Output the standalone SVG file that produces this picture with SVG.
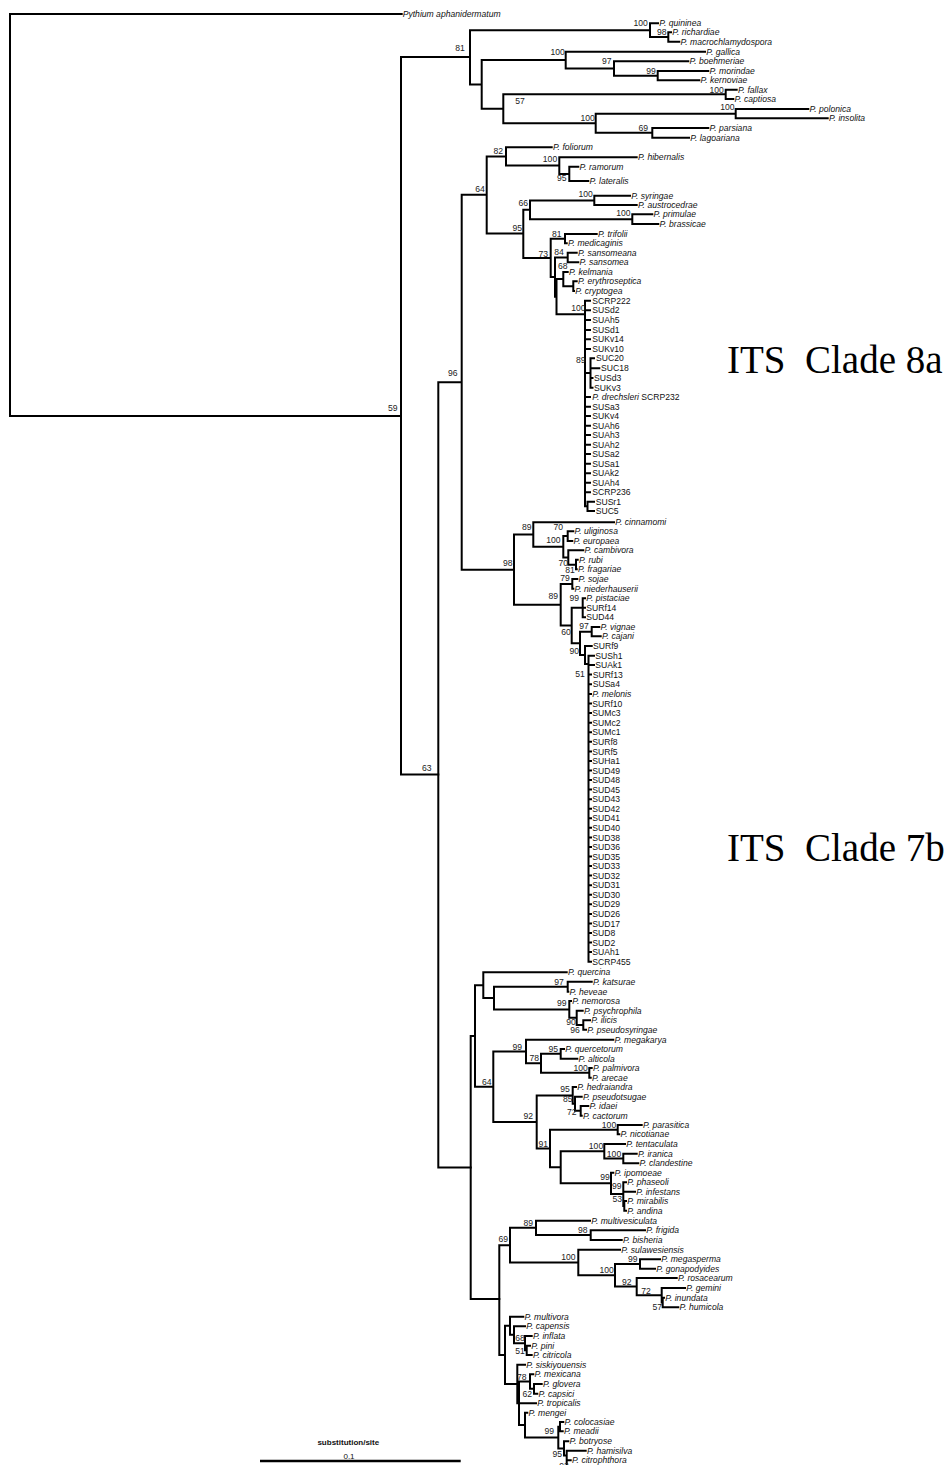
<svg xmlns="http://www.w3.org/2000/svg" width="945" height="1465" viewBox="0 0 945 1465">
<style>
.br{fill:none;stroke:#000;stroke-width:2;stroke-linecap:square}
.sp{font-family:"Liberation Sans",Arial,sans-serif;font-style:italic;font-size:8.6px;fill:#111}
.iso{font-family:"Liberation Sans",Arial,sans-serif;font-size:8.6px;fill:#111}
.bs{font-family:"Liberation Sans",Arial,sans-serif;font-size:8.6px;fill:#222;text-anchor:middle}
.cl{font-family:"Liberation Serif","Times New Roman",serif;font-size:39px;fill:#000}
.sc{font-family:"Liberation Sans",Arial,sans-serif;font-size:8px;fill:#111;text-anchor:middle}
</style>
<rect width="945" height="1465" fill="#fff"/>
<g id="connectors">
<path class="br" d="M10 14V415.9M10 14H401.7M10 415.9H401
M401 57.1V774.5M401 57.1H470M401 774.5H438.3
M470 30.2V84.4M470 30.2H650M470 84.4H481.7
M650 23.3V37M650 23.3H658M650 37H668.3
M668.3 32.3V41.7M668.3 32.3H671M668.3 41.7H679.3
M481.7 60.1V108.7M481.7 60.1H565.7M481.7 108.7H503.3
M565.7 51.7V68.5M565.7 51.7H705M565.7 68.5H614
M614 61.3V75.7M614 61.3H688.3M614 75.7H657.7
M657.7 71V80.3M657.7 71H708.3M657.7 80.3H699.3
M503.3 94.3V123.2M503.3 94.3H725.7M503.3 123.2H595.7
M725.7 89.7V99M725.7 89.7H736.7M725.7 99H733.3
M595.7 113.7V132.8M595.7 113.7H735.7M595.7 132.8H652.3
M735.7 109V118.3M735.7 109H808.3M735.7 118.3H827.7
M652.3 128V137.7M652.3 128H708.3M652.3 137.7H689"/>
<path class="br" d="M438.3 382.2V1167.5M438.3 382.2H461.7M438.3 1167.5H470.7
M461.7 194.7V569.7M461.7 194.7H486.7M461.7 569.7H514
M486.7 156.4V233.4M486.7 156.4H506M486.7 233.4H523.3
M506 147.3V165.6M506 147.3H551.7M506 165.6H559.3
M559.3 157.3V173.9M559.3 157.3H636.7M559.3 173.9H569.3
M569.3 166.7V181M569.3 166.7H578.3M569.3 181H588.3
M523.3 209.7V257.9M523.3 209.7H530M523.3 257.9H550.7
M530 200.4V219.2M530 200.4H594.3M530 219.2H632.3
M594.3 195.7V205M594.3 195.7H630M594.3 205H636.7
M632.3 214.3V224M632.3 214.3H652.3M632.3 224H658.3
M550.7 238.7V277.1M550.7 238.7H565M550.7 277.1H555
M565 234V243.3M565 234H596.7M565 243.3H566.7
M555 257.5V296.7M555 257.5H567.7M555 296.7H556.5
M567.7 252.7V262.3M567.7 252.7H576.7M567.7 262.3H578.3
M556.5 279.1V314.3M556.5 279.1H563.3M556.5 314.3H585
M563.3 272V286.2M563.3 272H567.7M563.3 286.2H573.3
M573.3 281.3V291M573.3 281.3H576.7M573.3 291H574
M585 300.7V506.3M585 300.7H590M585 310.3H590M585 320H590M585 330H590M585 339.3H590M585 349H590M585 373H590.5M585 397H590M585 406.7H590M585 416H590M585 425.7H590M585 435H590M585 444.7H590M585 454H590M585 463.7H590M585 473.3H590M585 482.7H590M585 492.3H590M585 506.3H587.5
M590.5 358.3V387.7M590.5 358.3H594M590.5 368.3H599.3M590.5 378H592.5M590.5 387.7H592.5
M587.5 501.7V511M587.5 501.7H594M587.5 511H594"/>
<path class="br" d="M514 534.5V604.8M514 534.5H533.3M514 604.8H560.7
M533.3 522.3V546.7M533.3 522.3H614M533.3 546.7H563.3
M563.3 536V557.5M563.3 536H567.7M563.3 557.5H568.3
M567.7 531.3V541M567.7 531.3H573.3M567.7 541H572.3
M568.3 550.3V564.7M568.3 550.3H583.3M568.3 564.7H576
M576 559.7V569.3M576 559.7H577.7M576 569.3H576.7
M560.7 584V625.5M560.7 584H572.3M560.7 625.5H571.7
M572.3 579V588.7M572.3 579H577.3M572.3 588.7H573.3
M571.7 607.7V643.3M571.7 607.7H582.7M571.7 643.3H580
M582.7 598.3V617.3M582.7 598.3H585M582.7 607.7H585M582.7 617.3H585
M580 631.7V655M580 631.7H591.7M580 655H585
M591.7 627V636.3M591.7 627H599.3M591.7 636.3H600.7
M585 646V664M585 646H591.7M585 664H588.5
M588.5 655.7V961.7M588.5 655.7H594M588.5 665H594M588.5 674.5H591M588.5 684.2H591M588.5 694H591M588.5 703.6H591M588.5 713.1H591M588.5 722.7H591M588.5 732.2H591M588.5 741.8H591M588.5 751.4H591M588.5 760.9H591M588.5 770.5H591M588.5 780H591M588.5 789.6H591M588.5 799.2H591M588.5 808.7H591M588.5 818.3H591M588.5 827.8H591M588.5 837.4H591M588.5 847H591M588.5 856.5H591M588.5 866.1H591M588.5 875.6H591M588.5 885.2H591M588.5 894.8H591M588.5 904.3H591M588.5 913.9H591M588.5 923.4H591M588.5 933H591M588.5 942.6H591M588.5 952.1H591M588.5 961.7H591"/>
<path class="br" d="M470.7 1036V1299M470.7 1036H475M470.7 1299H499.3
M475 985.2V1086.7M475 985.2H483.3M475 1086.7H493.3
M483.3 972.3V998M483.3 972.3H566.7M483.3 998H494
M494 986.7V1009.4M494 986.7H567.7M494 1009.4H569.3
M567.7 981.7V991.7M567.7 981.7H591.7M567.7 991.7H568.3
M569.3 1001V1017.8M569.3 1001H571M569.3 1017.8H576.7
M576.7 1010.7V1025M576.7 1010.7H582.7M576.7 1025H583.3
M583.3 1020.3V1029.7M583.3 1020.3H590M583.3 1029.7H586
M493.3 1051.5V1122M493.3 1051.5H526M493.3 1122H536.7
M526 1039.7V1063.3M526 1039.7H613.3M526 1063.3H541
M541 1053.8V1072.8M541 1053.8H560.7M541 1072.8H589.3
M560.7 1049V1058.7M560.7 1049H564M560.7 1058.7H577.3
M589.3 1068V1077.7M589.3 1068H591.7M589.3 1077.7H590.7
M536.7 1095.4V1148.5M536.7 1095.4H572.7M536.7 1148.5H550
M572.7 1087V1103.8M572.7 1087H576M572.7 1103.8H575
M575 1096.7V1110.8M575 1096.7H581.7M575 1110.8H580.7
M580.7 1106V1115.7M580.7 1106H588.3M580.7 1115.7H581.7
M550 1129.7V1167.3M550 1129.7H617.7M550 1167.3H560.7
M617.7 1125V1134.3M617.7 1125H641.7M617.7 1134.3H619.3
M560.7 1151.3V1183.3M560.7 1151.3H604.3M560.7 1183.3H611
M604.3 1144V1158.5M604.3 1144H625M604.3 1158.5H623.3
M623.3 1153.7V1163.3M623.3 1153.7H636.7M623.3 1163.3H638.3
M611 1172.7V1194M611 1172.7H613.3M611 1194H623.3
M623.3 1182.3V1205.9M623.3 1182.3H626M623.3 1191.7H635M623.3 1205.9H624.3
M624.3 1201V1210.7M624.3 1201H626M624.3 1210.7H626"/>
<path class="br" d="M499.3 1245.2V1354.9M499.3 1245.2H510M499.3 1354.9H505
M510 1227.8V1262.5M510 1227.8H536M510 1262.5H578.3
M536 1220.7V1235M536 1220.7H590M536 1235H590.7
M590.7 1230.3V1240M590.7 1230.3H645M590.7 1240H621.7
M578.3 1249.7V1275.3M578.3 1249.7H620M578.3 1275.3H615
M615 1264V1286.6M615 1264H640M615 1286.6H636.7
M640 1259.3V1268.7M640 1259.3H660M640 1268.7H655
M636.7 1278V1295.3M636.7 1278H676.7M636.7 1295.3H661.7
M661.7 1288V1302.5M661.7 1288H685M661.7 1302.5H662.7
M662.7 1297.7V1307.3M662.7 1297.7H664M662.7 1307.3H678.3
M505 1325.7V1384M505 1325.7H510M505 1384H517.3
M510 1316.7V1334.8M510 1316.7H523.3M510 1334.8H514
M514 1326.3V1343.2M514 1326.3H525M514 1343.2H525
M525 1336V1350.3M525 1336H531.7M525 1350.3H526.7
M526.7 1345.7V1355M526.7 1345.7H530M526.7 1355H531.7
M517.3 1364.7V1403.3M517.3 1364.7H525M517.3 1403.3H519
M519 1381.6V1425.1M519 1381.6H530M519 1403.3H536M519 1425.1H525
M530 1374.3V1388.8M530 1374.3H533.3M530 1388.8H534
M534 1384V1393.7M534 1384H541.7M534 1393.7H537.3
M525 1412.7V1437.5M525 1412.7H527.3M525 1437.5H558.3
M558.3 1426.7V1448.4M558.3 1426.7H560M558.3 1448.4H564
M560 1422V1431.3M560 1422H563.3M560 1431.3H562.7
M564 1441.3V1455.5M564 1441.3H568.3M564 1455.5H566.7
M566.7 1450.7V1466M566.7 1450.7H585.7M566.7 1460.3H570.7"/>
</g>
<g id="bootstrap">
<text class="bs" x="460" y="51.1">81</text>
<text class="bs" x="640.7" y="26.4">100</text>
<text class="bs" x="661.7" y="35.4">98</text>
<text class="bs" x="557.7" y="54.8">100</text>
<text class="bs" x="606.7" y="64.4">97</text>
<text class="bs" x="651" y="74.1">99</text>
<text class="bs" x="520" y="103.8">57</text>
<text class="bs" x="716.7" y="92.8">100</text>
<text class="bs" x="727.3" y="110.4">100</text>
<text class="bs" x="587.7" y="121.4">100</text>
<text class="bs" x="643.3" y="131.1">69</text>
<text class="bs" x="392.7" y="411.1">59</text>
<text class="bs" x="452.7" y="376.4">96</text>
<text class="bs" x="426.7" y="770.8">63</text>
<text class="bs" x="480" y="192.1">64</text>
<text class="bs" x="498.3" y="154.1">82</text>
<text class="bs" x="550" y="162.1">100</text>
<text class="bs" x="561.7" y="181.4">95</text>
<text class="bs" x="517.3" y="230.8">95</text>
<text class="bs" x="523.3" y="206.4">66</text>
<text class="bs" x="585.7" y="197.4">100</text>
<text class="bs" x="623.3" y="216.4">100</text>
<text class="bs" x="556.7" y="237.4">81</text>
<text class="bs" x="543.3" y="257.1">73</text>
<text class="bs" x="559" y="255.4">84</text>
<text class="bs" x="562.7" y="269.1">68</text>
<text class="bs" x="578.3" y="310.8">100</text>
<text class="bs" x="580.7" y="363.1">89</text>
<text class="bs" x="507.7" y="566.4">98</text>
<text class="bs" x="526.7" y="530.4">89</text>
<text class="bs" x="558.3" y="529.8">70</text>
<text class="bs" x="553.3" y="543.1">100</text>
<text class="bs" x="563.3" y="565.8">70</text>
<text class="bs" x="570" y="573.1">81</text>
<text class="bs" x="565" y="580.8">79</text>
<text class="bs" x="553.3" y="599.1">89</text>
<text class="bs" x="574.3" y="601.4">99</text>
<text class="bs" x="584" y="628.8">97</text>
<text class="bs" x="566" y="634.8">60</text>
<text class="bs" x="574.3" y="654.1">90</text>
<text class="bs" x="580" y="677.1">51</text>
<text class="bs" x="486.7" y="1084.8">64</text>
<text class="bs" x="559" y="984.8">97</text>
<text class="bs" x="561.7" y="1006.4">99</text>
<text class="bs" x="571" y="1024.8">90</text>
<text class="bs" x="575" y="1033.1">96</text>
<text class="bs" x="517.3" y="1049.8">99</text>
<text class="bs" x="553.3" y="1052.1">95</text>
<text class="bs" x="534.3" y="1061.4">78</text>
<text class="bs" x="580.7" y="1071.4">100</text>
<text class="bs" x="565" y="1092.1">95</text>
<text class="bs" x="567.7" y="1102.4">85</text>
<text class="bs" x="571.7" y="1114.8">72</text>
<text class="bs" x="528.3" y="1119.1">92</text>
<text class="bs" x="609" y="1128.1">100</text>
<text class="bs" x="543.3" y="1147.1">91</text>
<text class="bs" x="596" y="1149.1">100</text>
<text class="bs" x="614" y="1157.1">100</text>
<text class="bs" x="605" y="1180.4">99</text>
<text class="bs" x="616.7" y="1189.1">99</text>
<text class="bs" x="617.3" y="1202.4">53</text>
<text class="bs" x="503.3" y="1242.4">69</text>
<text class="bs" x="528.3" y="1225.8">89</text>
<text class="bs" x="582.7" y="1233.1">98</text>
<text class="bs" x="568.3" y="1259.8">100</text>
<text class="bs" x="632.7" y="1262.4">99</text>
<text class="bs" x="606.7" y="1273.1">100</text>
<text class="bs" x="626.7" y="1285.4">92</text>
<text class="bs" x="646" y="1293.8">72</text>
<text class="bs" x="657.3" y="1310.4">57</text>
<text class="bs" x="520" y="1341.4">68</text>
<text class="bs" x="520" y="1354.1">51</text>
<text class="bs" x="521.7" y="1379.8">78</text>
<text class="bs" x="527.3" y="1397.4">62</text>
<text class="bs" x="549.3" y="1434.1">99</text>
<text class="bs" x="557.3" y="1457.1">95</text>
<text class="bs" x="564" y="1469">93</text>
</g>
<g id="tip-pythium"><text class="sp" x="402.7" y="17.1">Pythium aphanidermatum</text></g>
<g id="tip-quininea"><text class="sp" x="659.3" y="26.4">P. quininea</text></g>
<g id="tip-richardiae"><text class="sp" x="672.3" y="35.4">P. richardiae</text></g>
<g id="tip-macrochlamydospora"><text class="sp" x="680.6" y="44.8">P. macrochlamydospora</text></g>
<g id="tip-gallica"><text class="sp" x="706.3" y="54.8">P. gallica</text></g>
<g id="tip-boehmeriae"><text class="sp" x="689.6" y="64.4">P. boehmeriae</text></g>
<g id="tip-morindae"><text class="sp" x="709.6" y="74.1">P. morindae</text></g>
<g id="tip-kernoviae"><text class="sp" x="700.6" y="83.4">P. kernoviae</text></g>
<g id="tip-fallax"><text class="sp" x="738" y="92.8">P. fallax</text></g>
<g id="tip-captiosa"><text class="sp" x="734.6" y="102.1">P. captiosa</text></g>
<g id="tip-polonica"><text class="sp" x="809.6" y="112.1">P. polonica</text></g>
<g id="tip-insolita"><text class="sp" x="829" y="121.4">P. insolita</text></g>
<g id="tip-parsiana"><text class="sp" x="709.6" y="131.1">P. parsiana</text></g>
<g id="tip-lagoariana"><text class="sp" x="690.3" y="140.8">P. lagoariana</text></g>
<g id="tip-foliorum"><text class="sp" x="553" y="150.4">P. foliorum</text></g>
<g id="tip-hibernalis"><text class="sp" x="638" y="160.4">P. hibernalis</text></g>
<g id="tip-ramorum"><text class="sp" x="579.6" y="169.8">P. ramorum</text></g>
<g id="tip-lateralis"><text class="sp" x="589.6" y="184.1">P. lateralis</text></g>
<g id="tip-syringae"><text class="sp" x="631.3" y="198.8">P. syringae</text></g>
<g id="tip-austrocedrae"><text class="sp" x="638" y="208.1">P. austrocedrae</text></g>
<g id="tip-primulae"><text class="sp" x="653.6" y="217.4">P. primulae</text></g>
<g id="tip-brassicae"><text class="sp" x="659.6" y="227.1">P. brassicae</text></g>
<g id="tip-trifolii"><text class="sp" x="598" y="237.1">P. trifolii</text></g>
<g id="tip-medicaginis"><text class="sp" x="568" y="246.4">P. medicaginis</text></g>
<g id="tip-sansomeana"><text class="sp" x="578" y="255.8">P. sansomeana</text></g>
<g id="tip-sansomea"><text class="sp" x="579.6" y="265.4">P. sansomea</text></g>
<g id="tip-kelmania"><text class="sp" x="569" y="275.1">P. kelmania</text></g>
<g id="tip-erythroseptica"><text class="sp" x="578" y="284.4">P. erythroseptica</text></g>
<g id="tip-cryptogea"><text class="sp" x="575.3" y="294.1">P. cryptogea</text></g>
<g id="tip-SCRP222"><text class="iso" x="592.3" y="303.8">SCRP222</text></g>
<g id="tip-SUSd2"><text class="iso" x="592.3" y="313.4">SUSd2</text></g>
<g id="tip-SUAh5"><text class="iso" x="592.3" y="323.1">SUAh5</text></g>
<g id="tip-SUSd1"><text class="iso" x="592.3" y="333.1">SUSd1</text></g>
<g id="tip-SUKv14"><text class="iso" x="592.3" y="342.4">SUKv14</text></g>
<g id="tip-SUKv10"><text class="iso" x="592.3" y="352.1">SUKv10</text></g>
<g id="tip-SUC20"><text class="iso" x="596" y="361.4">SUC20</text></g>
<g id="tip-SUC18"><text class="iso" x="601" y="371.4">SUC18</text></g>
<g id="tip-SUSd3"><text class="iso" x="594" y="381.1">SUSd3</text></g>
<g id="tip-SUKv3"><text class="iso" x="594" y="390.8">SUKv3</text></g>
<g id="tip-drechsleri"><text class="iso" x="592.3" y="400.1"><tspan font-style="italic">P. drechsleri</tspan> SCRP232</text></g>
<g id="tip-SUSa3"><text class="iso" x="592.3" y="409.8">SUSa3</text></g>
<g id="tip-SUKv4"><text class="iso" x="592.3" y="419.1">SUKv4</text></g>
<g id="tip-SUAh6"><text class="iso" x="592.3" y="428.8">SUAh6</text></g>
<g id="tip-SUAh3"><text class="iso" x="592.3" y="438.1">SUAh3</text></g>
<g id="tip-SUAh2"><text class="iso" x="592.3" y="447.8">SUAh2</text></g>
<g id="tip-SUSa2"><text class="iso" x="592.3" y="457.1">SUSa2</text></g>
<g id="tip-SUSa1"><text class="iso" x="592.3" y="466.8">SUSa1</text></g>
<g id="tip-SUAk2"><text class="iso" x="592.3" y="476.4">SUAk2</text></g>
<g id="tip-SUAh4"><text class="iso" x="592.3" y="485.8">SUAh4</text></g>
<g id="tip-SCRP236"><text class="iso" x="592.3" y="495.4">SCRP236</text></g>
<g id="tip-SUSr1"><text class="iso" x="595.7" y="504.8">SUSr1</text></g>
<g id="tip-SUC5"><text class="iso" x="595.7" y="514.1">SUC5</text></g>
<g id="tip-cinnamomi"><text class="sp" x="615.3" y="525.4">P. cinnamomi</text></g>
<g id="tip-uliginosa"><text class="sp" x="574.6" y="534.4">P. uliginosa</text></g>
<g id="tip-europaea"><text class="sp" x="573.6" y="544.1">P. europaea</text></g>
<g id="tip-cambivora"><text class="sp" x="584.6" y="553.4">P. cambivora</text></g>
<g id="tip-rubi"><text class="sp" x="579" y="562.8">P. rubi</text></g>
<g id="tip-fragariae"><text class="sp" x="578" y="572.4">P. fragariae</text></g>
<g id="tip-sojae"><text class="sp" x="578.6" y="582.1">P. sojae</text></g>
<g id="tip-niederhauserii"><text class="sp" x="574.6" y="591.8">P. niederhauserii</text></g>
<g id="tip-pistaciae"><text class="sp" x="586.3" y="601.4">P. pistaciae</text></g>
<g id="tip-SURf14"><text class="iso" x="586.3" y="610.8">SURf14</text></g>
<g id="tip-SUD44"><text class="iso" x="586.3" y="620.4">SUD44</text></g>
<g id="tip-vignae"><text class="sp" x="600.6" y="630.1">P. vignae</text></g>
<g id="tip-cajani"><text class="sp" x="602" y="639.4">P. cajani</text></g>
<g id="tip-SURf9"><text class="iso" x="593" y="649.1">SURf9</text></g>
<g id="tip-SUSh1"><text class="iso" x="595.3" y="658.8">SUSh1</text></g>
<g id="tip-SUAk1"><text class="iso" x="595.3" y="668.1">SUAk1</text></g>
<g id="tip-SURf13"><text class="iso" x="592.7" y="677.6">SURf13</text></g>
<g id="tip-SUSa4"><text class="iso" x="592.7" y="687.3">SUSa4</text></g>
<g id="tip-melonis"><text class="sp" x="592.3" y="697.1">P. melonis</text></g>
<g id="tip-SURf10"><text class="iso" x="592.3" y="706.7">SURf10</text></g>
<g id="tip-SUMc3"><text class="iso" x="592.3" y="716.2">SUMc3</text></g>
<g id="tip-SUMc2"><text class="iso" x="592.3" y="725.8">SUMc2</text></g>
<g id="tip-SUMc1"><text class="iso" x="592.3" y="735.3">SUMc1</text></g>
<g id="tip-SURf8"><text class="iso" x="592.3" y="744.9">SURf8</text></g>
<g id="tip-SURf5"><text class="iso" x="592.3" y="754.5">SURf5</text></g>
<g id="tip-SUHa1"><text class="iso" x="592.3" y="764">SUHa1</text></g>
<g id="tip-SUD49"><text class="iso" x="592.3" y="773.6">SUD49</text></g>
<g id="tip-SUD48"><text class="iso" x="592.3" y="783.1">SUD48</text></g>
<g id="tip-SUD45"><text class="iso" x="592.3" y="792.7">SUD45</text></g>
<g id="tip-SUD43"><text class="iso" x="592.3" y="802.3">SUD43</text></g>
<g id="tip-SUD42"><text class="iso" x="592.3" y="811.8">SUD42</text></g>
<g id="tip-SUD41"><text class="iso" x="592.3" y="821.4">SUD41</text></g>
<g id="tip-SUD40"><text class="iso" x="592.3" y="830.9">SUD40</text></g>
<g id="tip-SUD38"><text class="iso" x="592.3" y="840.5">SUD38</text></g>
<g id="tip-SUD36"><text class="iso" x="592.3" y="850.1">SUD36</text></g>
<g id="tip-SUD35"><text class="iso" x="592.3" y="859.6">SUD35</text></g>
<g id="tip-SUD33"><text class="iso" x="592.3" y="869.2">SUD33</text></g>
<g id="tip-SUD32"><text class="iso" x="592.3" y="878.7">SUD32</text></g>
<g id="tip-SUD31"><text class="iso" x="592.3" y="888.3">SUD31</text></g>
<g id="tip-SUD30"><text class="iso" x="592.3" y="897.9">SUD30</text></g>
<g id="tip-SUD29"><text class="iso" x="592.3" y="907.4">SUD29</text></g>
<g id="tip-SUD26"><text class="iso" x="592.3" y="917">SUD26</text></g>
<g id="tip-SUD17"><text class="iso" x="592.3" y="926.5">SUD17</text></g>
<g id="tip-SUD8"><text class="iso" x="592.3" y="936.1">SUD8</text></g>
<g id="tip-SUD2"><text class="iso" x="592.3" y="945.7">SUD2</text></g>
<g id="tip-SUAh1"><text class="iso" x="592.3" y="955.2">SUAh1</text></g>
<g id="tip-SCRP455"><text class="iso" x="592.3" y="964.8">SCRP455</text></g>
<g id="tip-quercina"><text class="sp" x="568" y="975.4">P. quercina</text></g>
<g id="tip-katsurae"><text class="sp" x="593" y="984.8">P. katsurae</text></g>
<g id="tip-heveae"><text class="sp" x="569.6" y="994.8">P. heveae</text></g>
<g id="tip-nemorosa"><text class="sp" x="572.3" y="1004.1">P. nemorosa</text></g>
<g id="tip-psychrophila"><text class="sp" x="584" y="1013.8">P. psychrophila</text></g>
<g id="tip-ilicis"><text class="sp" x="591.3" y="1023.4">P. ilicis</text></g>
<g id="tip-pseudosyringae"><text class="sp" x="587.3" y="1032.8">P. pseudosyringae</text></g>
<g id="tip-megakarya"><text class="sp" x="614.6" y="1042.8">P. megakarya</text></g>
<g id="tip-quercetorum"><text class="sp" x="565.3" y="1052.1">P. quercetorum</text></g>
<g id="tip-alticola"><text class="sp" x="578.6" y="1061.8">P. alticola</text></g>
<g id="tip-palmivora"><text class="sp" x="593" y="1071.1">P. palmivora</text></g>
<g id="tip-arecae"><text class="sp" x="592" y="1080.8">P. arecae</text></g>
<g id="tip-hedraiandra"><text class="sp" x="577.3" y="1090.1">P. hedraiandra</text></g>
<g id="tip-pseudotsugae"><text class="sp" x="583" y="1099.8">P. pseudotsugae</text></g>
<g id="tip-idaei"><text class="sp" x="589.6" y="1109.1">P. idaei</text></g>
<g id="tip-cactorum"><text class="sp" x="583" y="1118.8">P. cactorum</text></g>
<g id="tip-parasitica"><text class="sp" x="643" y="1128.1">P. parasitica</text></g>
<g id="tip-nicotianae"><text class="sp" x="620.6" y="1137.4">P. nicotianae</text></g>
<g id="tip-tentaculata"><text class="sp" x="626.3" y="1147.1">P. tentaculata</text></g>
<g id="tip-iranica"><text class="sp" x="638" y="1156.8">P. iranica</text></g>
<g id="tip-clandestine"><text class="sp" x="639.6" y="1166.4">P. clandestine</text></g>
<g id="tip-ipomoeae"><text class="sp" x="614.6" y="1175.8">P. ipomoeae</text></g>
<g id="tip-phaseoli"><text class="sp" x="627.3" y="1185.4">P. phaseoli</text></g>
<g id="tip-infestans"><text class="sp" x="636.3" y="1194.8">P. infestans</text></g>
<g id="tip-mirabilis"><text class="sp" x="627.3" y="1204.1">P. mirabilis</text></g>
<g id="tip-andina"><text class="sp" x="627.3" y="1213.8">P. andina</text></g>
<g id="tip-multivesiculata"><text class="sp" x="591.3" y="1223.8">P. multivesiculata</text></g>
<g id="tip-frigida"><text class="sp" x="646.3" y="1233.4">P. frigida</text></g>
<g id="tip-bisheria"><text class="sp" x="623" y="1243.1">P. bisheria</text></g>
<g id="tip-sulawesiensis"><text class="sp" x="621.3" y="1252.8">P. sulawesiensis</text></g>
<g id="tip-megasperma"><text class="sp" x="661.3" y="1262.4">P. megasperma</text></g>
<g id="tip-gonapodyides"><text class="sp" x="656.3" y="1271.8">P. gonapodyides</text></g>
<g id="tip-rosacearum"><text class="sp" x="678" y="1281.1">P. rosacearum</text></g>
<g id="tip-gemini"><text class="sp" x="686.3" y="1291.1">P. gemini</text></g>
<g id="tip-inundata"><text class="sp" x="665.3" y="1300.8">P. inundata</text></g>
<g id="tip-humicola"><text class="sp" x="679.6" y="1310.4">P. humicola</text></g>
<g id="tip-multivora"><text class="sp" x="524.6" y="1319.8">P. multivora</text></g>
<g id="tip-capensis"><text class="sp" x="526.3" y="1329.4">P. capensis</text></g>
<g id="tip-inflata"><text class="sp" x="533" y="1339.1">P. inflata</text></g>
<g id="tip-pini"><text class="sp" x="531.3" y="1348.8">P. pini</text></g>
<g id="tip-citricola"><text class="sp" x="533" y="1358.1">P. citricola</text></g>
<g id="tip-siskiyouensis"><text class="sp" x="526.3" y="1367.8">P. siskiyouensis</text></g>
<g id="tip-mexicana"><text class="sp" x="534.6" y="1377.4">P. mexicana</text></g>
<g id="tip-glovera"><text class="sp" x="543" y="1387.1">P. glovera</text></g>
<g id="tip-capsici"><text class="sp" x="538.6" y="1396.8">P. capsici</text></g>
<g id="tip-tropicalis"><text class="sp" x="537.3" y="1406.4">P. tropicalis</text></g>
<g id="tip-mengei"><text class="sp" x="528.6" y="1415.8">P. mengei</text></g>
<g id="tip-colocasiae"><text class="sp" x="564.6" y="1425.1">P. colocasiae</text></g>
<g id="tip-meadii"><text class="sp" x="564" y="1434.4">P. meadii</text></g>
<g id="tip-botryose"><text class="sp" x="569.6" y="1444.4">P. botryose</text></g>
<g id="tip-hamisilva"><text class="sp" x="587" y="1453.8">P. hamisilva</text></g>
<g id="tip-citrophthora"><text class="sp" x="572" y="1463.4">P. citrophthora</text></g>
<g id="clade-8a"><text class="cl" x="727" y="373" xml:space="preserve">ITS  Clade 8a</text></g>
<g id="clade-7b"><text class="cl" x="727" y="861" xml:space="preserve">ITS  Clade 7b</text></g>
<g id="scale-bar">
<text class="sc" x="348.3" y="1444.6" font-weight="bold">substitution/site</text>
<text class="sc" x="349" y="1458.6">0.1</text>
<path d="M260 1461H460.7" stroke="#000" stroke-width="2.5"/>
</g>
</svg>
